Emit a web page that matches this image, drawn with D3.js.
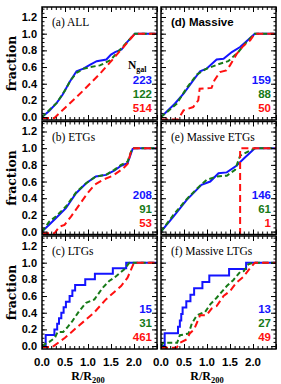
<!DOCTYPE html>
<html><head><meta charset="utf-8">
<script src="https://cdn.jsdelivr.net/npm/d3@7"></script>
<style>body{margin:0;background:#fff}svg{display:block}</style>
</head><body><svg id="c" width="281" height="384"></svg>
<script>
// ---------- data ----------
const panelLabels = ["(a) ALL", "(b) ETGs", "(c) LTGs", "(d) Massive", "(e) Massive ETGs", "(f) Massive LTGs"];
const xTickValues = [0, 0.5, 1.0, 1.5, 2.0];
const yTickValues = [0, 0.2, 0.4, 0.6, 0.8, 1.0, 1.2];
const countsBlue  = [223, 208, 15, 159, 146, 13];
const countsGreen = [122, 91, 31, 88, 61, 27];
const countsRed   = [514, 53, 461, 50, 1, 49];

// (a) ALL
const aBlue  = [[0,0],[0.15,0.07],[0.32,0.17],[0.45,0.27],[0.6,0.42],[0.75,0.55],[0.9,0.58],[1.05,0.63],[1.19,0.67],[1.4,0.69],[1.5,0.75],[1.59,0.78],[1.73,0.81],[1.85,0.9],[2.02,1.0],[2.5,1.0]];
const aGreen = [[0,0],[0.15,0.08],[0.32,0.17],[0.5,0.32],[0.62,0.44],[0.75,0.53],[0.9,0.58],[1.05,0.6],[1.26,0.62],[1.48,0.68],[1.75,0.84],[2.02,1.0],[2.5,1.0]];
const aRed   = [[0,-0.01],[0.27,-0.01],[0.54,0.13],[0.9,0.32],[1.26,0.52],[1.52,0.68],[1.77,0.84],[2.02,1.0],[2.5,1.0]];
// (b) ETGs
const bBlue  = [[0,0],[0.15,0.08],[0.3,0.16],[0.52,0.28],[0.74,0.46],[0.96,0.58],[1.17,0.66],[1.39,0.68],[1.57,0.73],[1.72,0.79],[1.86,0.82],[1.97,0.99],[2.0,1.0],[2.5,1.0]];
const bGreen = [[0,0],[0.16,0.12],[0.3,0.18],[0.52,0.3],[0.74,0.47],[0.96,0.58],[1.17,0.66],[1.39,0.68],[1.57,0.74],[1.72,0.8],[1.86,0.84],[1.95,0.98],[2.0,1.0],[2.5,1.0]];
const bRed   = [[0,-0.02],[0.27,-0.02],[0.38,0.06],[0.49,0.08],[0.63,0.18],[0.81,0.32],[0.99,0.46],[1.14,0.56],[1.32,0.62],[1.54,0.67],[1.75,0.75],[1.86,0.81],[1.93,0.95],[2.0,1.0],[2.5,1.0]];
// (c) LTGs
const cBlue  = [[0,0],[0.08,0.133],[0.27,0.2],[0.33,0.267],[0.37,0.333],[0.42,0.4],[0.47,0.467],[0.52,0.533],[0.6,0.6],[0.66,0.667],[0.72,0.733],[0.94,0.8],[1.15,0.867],[1.54,0.933],[1.83,1.0],[2.5,1.0]];
const cGreen = [[0,0],[0.08,0.03],[0.16,0.05],[0.28,0.1],[0.34,0.17],[0.46,0.17],[0.56,0.23],[0.66,0.3],[0.81,0.42],[0.96,0.52],[1.14,0.56],[1.32,0.7],[1.46,0.78],[1.57,0.82],[1.79,0.92],[1.9,1.0],[2.5,1.0]];
const cRed   = [[0,-0.01],[0.23,-0.01],[0.5,0.1],[0.77,0.23],[1.13,0.4],[1.39,0.56],[1.72,0.72],[1.86,0.82],[2.0,1.0],[2.5,1.0]];
// (d) Massive
const dBlue  = [[0,0],[0.3,0.16],[0.49,0.28],[0.7,0.44],[0.85,0.55],[0.99,0.58],[1.21,0.69],[1.36,0.7],[1.54,0.78],[1.72,0.84],[1.86,0.91],[2.04,1.0],[2.5,1.0]];
const dGreen = [[0,0],[0.34,0.16],[0.56,0.35],[0.78,0.51],[0.99,0.58],[1.28,0.64],[1.46,0.67],[1.68,0.78],[1.86,0.9],[2.04,1.0],[2.5,1.0]];
const dRed   = [[0,-0.03],[0.37,-0.03],[0.49,0.08],[0.59,0.1],[0.7,0.12],[0.81,0.2],[0.84,0.34],[1.1,0.35],[1.16,0.44],[1.28,0.54],[1.42,0.56],[1.5,0.62],[1.65,0.76],[1.8,0.86],[1.94,0.92],[2.04,1.0],[2.5,1.0]];
// (e) Massive ETGs
const eBlue  = [[0,0],[0.27,0.18],[0.56,0.38],[0.88,0.56],[1.07,0.6],[1.25,0.7],[1.43,0.71],[1.64,0.79],[1.79,0.87],[2.04,1.0],[2.5,1.0]];
const eGreen = [[0,0],[0.27,0.2],[0.56,0.39],[0.81,0.53],[0.99,0.62],[1.21,0.66],[1.43,0.67],[1.61,0.74],[1.72,0.91],[2.04,1.0],[2.5,1.0]];
const eRed   = [[1.72,-0.04],[1.72,1.0],[2.5,1.0]];
// (f) Massive LTGs
const fBlue  = [[0,0],[0.08,0.154],[0.37,0.231],[0.41,0.308],[0.44,0.385],[0.47,0.462],[0.55,0.538],[0.64,0.615],[0.72,0.692],[0.9,0.769],[1.05,0.846],[1.48,0.923],[1.85,1.0],[2.5,1.0]];
const fGreen = [[0,0],[0.05,0.04],[0.35,0.04],[0.41,0.13],[0.6,0.15],[0.67,0.27],[0.78,0.37],[0.96,0.41],[1.07,0.5],[1.21,0.58],[1.43,0.72],[1.57,0.79],[1.72,0.89],[1.8,0.9],[1.9,0.98],[2.0,1.0],[2.5,1.0]];
const fRed   = [[0,-0.02],[0.34,-0.02],[0.41,0.04],[0.56,0.08],[0.63,0.155],[0.72,0.2],[0.85,0.37],[0.99,0.37],[1.1,0.45],[1.21,0.48],[1.36,0.6],[1.5,0.66],[1.64,0.76],[1.79,0.83],[1.93,0.93],[2.04,1.0],[2.5,1.0]];

const blueSeries  = [aBlue, bBlue, cBlue, dBlue, eBlue, fBlue];
const greenSeries = [aGreen, bGreen, cGreen, dGreen, eGreen, fGreen];
const redSeries   = [aRed, bRed, cRed, dRed, eRed, fRed];
const stepBlue  = [false, false, true, false, false, true];

// ---------- layout ----------
const svg = d3.select("#c");
const colX = [42, 161], panelW = 115;
const rowY = [7, 121.5, 236], panelH = 113;
const BLUE = "#1414ff", GREEN = "#177a17", RED = "#ff1010";
const sansB = "'Liberation Sans', Arial, sans-serif";
const serif = "'Liberation Serif', 'Times New Roman', serif";

panelLabels.forEach((lab, i) => {
  const col = Math.floor(i / 3), row = i % 3;
  const x0 = colX[col], y0 = rowY[row];
  const x = d3.scaleLinear().domain([0, 2.5]).range([x0, x0 + panelW]);
  const y = d3.scaleLinear().domain([-0.035, 1.32]).range([y0 + panelH, y0]);
  const g = svg.append("g");

  const clipId = "clip" + i;
  svg.append("clipPath").attr("id", clipId).append("rect")
    .attr("x", x0).attr("y", y0).attr("width", panelW).attr("height", panelH);

  const lines = g.append("g").attr("clip-path", `url(#${clipId})`);
  const mk = step => d3.line().x(d => x(d[0])).y(d => y(d[1])).curve(step ? d3.curveStepAfter : d3.curveLinear);
  lines.append("path").attr("d", mk(stepBlue[i])(blueSeries[i])).attr("fill", "none")
    .attr("stroke", BLUE).attr("stroke-width", 2);
  lines.append("path").attr("d", mk(false)(greenSeries[i])).attr("fill", "none")
    .attr("stroke", GREEN).attr("stroke-width", 2).attr("stroke-dasharray", "5,3");
  lines.append("path").attr("d", mk(false)(redSeries[i])).attr("fill", "none")
    .attr("stroke", RED).attr("stroke-width", 2).attr("stroke-dasharray", "7,4");

  // axes: ticks inward on all four sides
  const xMaj = d3.range(0, 2.51, 0.5), xMin = d3.range(0, 2.51, 0.1);
  const yMaj = yTickValues, yMin = d3.range(0, 1.32, 0.05);
  const axB = d3.axisTop(x).tickValues(xMin).tickSize(3).tickFormat("");
  const axB2 = d3.axisTop(x).tickValues(xMaj).tickSize(5).tickFormat("");
  const axT = d3.axisBottom(x).tickValues(xMin).tickSize(3).tickFormat("");
  const axT2 = d3.axisBottom(x).tickValues(xMaj).tickSize(5).tickFormat("");
  const axL = d3.axisRight(y).tickValues(yMin).tickSize(2.5).tickFormat("");
  const axL2 = d3.axisRight(y).tickValues(yMaj).tickSize(5).tickFormat("");
  const axR = d3.axisLeft(y).tickValues(yMin).tickSize(2.5).tickFormat("");
  const axR2 = d3.axisLeft(y).tickValues(yMaj).tickSize(5).tickFormat("");
  [[axB, `translate(0,${y0 + panelH})`], [axB2, `translate(0,${y0 + panelH})`],
   [axT, `translate(0,${y0})`], [axT2, `translate(0,${y0})`],
   [axL, `translate(${x0},0)`], [axL2, `translate(${x0},0)`],
   [axR, `translate(${x0 + panelW},0)`], [axR2, `translate(${x0 + panelW},0)`]].forEach(([ax, tr]) => {
    const a = g.append("g").attr("transform", tr).call(ax);
    a.select(".domain").remove();
    a.selectAll("line").attr("stroke", "#000").attr("stroke-width", 1);
  });
  g.append("rect").attr("x", x0).attr("y", y0).attr("width", panelW).attr("height", panelH)
    .attr("fill", "none").attr("stroke", "#000").attr("stroke-width", 1.5);

  // y tick labels on left column
  if (col === 0) {
    g.selectAll(".yl").data(yTickValues).enter().append("text")
      .attr("x", 37).attr("y", d => y(d)).attr("dy", "0.36em")
      .attr("text-anchor", "end").attr("font-family", sansB).attr("font-weight", "bold")
      .attr("font-size", 11).text(d => d.toFixed(1));
    g.append("text").attr("transform", `translate(16,${y0 + panelH / 2}) rotate(-90)`)
      .attr("text-anchor", "middle").attr("font-family", "'DejaVu Serif', serif")
      .attr("font-weight", "bold").attr("font-size", 12.5).text("fraction");
  }
  // x tick labels on bottom row
  if (row === 2) {
    g.selectAll(".xl").data(xTickValues).enter().append("text")
      .attr("x", d => x(d)).attr("y", y0 + panelH + 16.5)
      .attr("text-anchor", "middle").attr("font-family", sansB).attr("font-weight", "bold")
      .attr("font-size", 11.5).text(d => d.toFixed(1));
    const t = g.append("text").attr("x", x(1.0)).attr("y", y0 + panelH + 31)
      .attr("text-anchor", "middle").attr("font-family", serif).attr("font-weight", "bold")
      .attr("font-size", 12);
    t.append("tspan").text("R/R");
    t.append("tspan").attr("font-size", 8.5).attr("dy", 2.5).text("200");
  }
  // panel label
  g.append("text").attr("x", x0 + 10).attr("y", y0 + 19)
    .attr("font-family", i === 3 ? sansB : serif).attr("font-weight", i === 3 ? "bold" : "normal")
    .attr("font-size", 11.5).text(lab);
  // counts
  const rx = x0 + panelW - 5;
  [[countsBlue[i], BLUE, 77], [countsGreen[i], GREEN, 91], [countsRed[i], RED, 105]].forEach(([v, c, dy]) => {
    g.append("text").attr("x", rx).attr("y", y0 + dy).attr("text-anchor", "end")
      .attr("font-family", sansB).attr("font-weight", "bold").attr("font-size", 11.5)
      .attr("fill", c).text(v);
  });
  if (i === 0) {
    const t = g.append("text").attr("x", x0 + 86).attr("y", y0 + 62)
      .attr("font-family", serif).attr("font-weight", "bold").attr("font-size", 11.5);
    t.append("tspan").text("N");
    t.append("tspan").attr("font-size", 8).attr("dy", 3).text("gal");
  }
});
</script></body></html>
